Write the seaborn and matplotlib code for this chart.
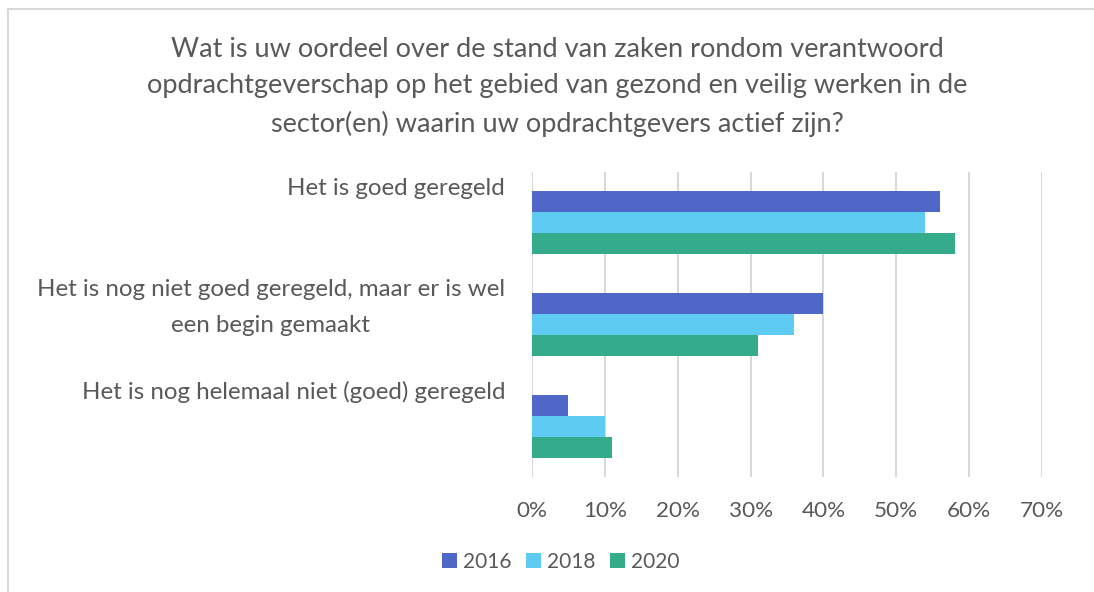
import matplotlib
matplotlib.use("Agg")
import matplotlib.pyplot as plt
import matplotlib.transforms as mtransforms
from matplotlib.lines import Line2D
from matplotlib.patches import Patch
import seaborn as sns
import pandas as pd

categories = [
    "Het is goed geregeld",
    "Het is nog niet goed geregeld, maar er is wel\neen begin gemaakt",
    "Het is nog helemaal niet (goed) geregeld",
]
years = ["2016", "2018", "2020"]
values_2016 = [56, 40, 5]
values_2018 = [54, 36, 10]
values_2020 = [58, 31, 11]
colors = ["#4F68C8", "#5DCBF2", "#34AB8A"]
xticks = [0, 10, 20, 30, 40, 50, 60, 70]
title = ("Wat is uw oordeel over de stand van zaken rondom verantwoord\n"
         "opdrachtgeverschap op het gebied van gezond en veilig werken in de\n"
         "sector(en) waarin uw opdrachtgevers actief zijn?")

rows = []
for yr, vals in zip(years, [values_2016, values_2018, values_2020]):
    for c, v in zip(categories, vals):
        rows.append({"cat": c, "year": yr, "val": v})
df = pd.DataFrame(rows)

sns.set_theme(style="white")
plt.rcParams["font.family"] = ["Lato", "DejaVu Sans"]
txt = "#595959"

W, H = 1094, 592
fig = plt.figure(figsize=(W / 100, H / 100), dpi=100)
ax = fig.add_axes([532 / W, (H - 477) / H, (1042 - 532) / W, (477 - 172) / H])

sns.barplot(data=df, y="cat", x="val", hue="year", palette=colors,
            order=categories, hue_order=years, orient="h", width=0.62,
            ax=ax, legend=False, saturation=1, linewidth=0)

ax.set_xlim(0, 70)
ax.set_ylim(2.5, -0.5)
ax.set_xticks(xticks)
ax.set_xticklabels([f"{t}%" for t in xticks], fontsize=16.2, color=txt)
ax.tick_params(axis="x", length=0, pad=17.5)
ax.tick_params(axis="y", length=0, pad=19.4)
ax.xaxis.grid(True, color="#D9D9D9", linewidth=1.5)
ax.set_axisbelow(True)
for s in ax.spines.values():
    s.set_visible(False)
ax.set_xlabel("")
ax.set_ylabel("")

offset = mtransforms.ScaledTranslation(0, 45 / 100, fig.dpi_scale_trans)
for lab in ax.get_yticklabels():
    lab.set_fontsize(17.4)
    lab.set_color(txt)
    lab.set_va("top")
    lab.set_ha("right")
    lab.set_multialignment("center")
    lab.set_linespacing(1.85)
    lab.set_transform(lab.get_transform() + offset)

fig.text(557 / W, 1 - 37 / H, title, ha="center", va="top", fontsize=19.5,
         color=txt, linespacing=1.57)

handles = [Patch(facecolor=c, edgecolor="none") for c in colors]
fig.legend(handles, years, loc="center", bbox_to_anchor=(561 / W, 1 - 562 / H),
           ncol=3, frameon=False, fontsize=15, labelcolor=txt,
           handlelength=0.7, handleheight=0.7, handletextpad=0.3,
           columnspacing=0.7)

fig.add_artist(Line2D([8 / W, 1], [1 - 9 / H, 1 - 9 / H], color="#D9D9D9", lw=1.5))
fig.add_artist(Line2D([8 / W, 8 / W], [0, 1 - 9 / H], color="#D9D9D9", lw=1.5))

fig.savefig("out.png", dpi=100)
